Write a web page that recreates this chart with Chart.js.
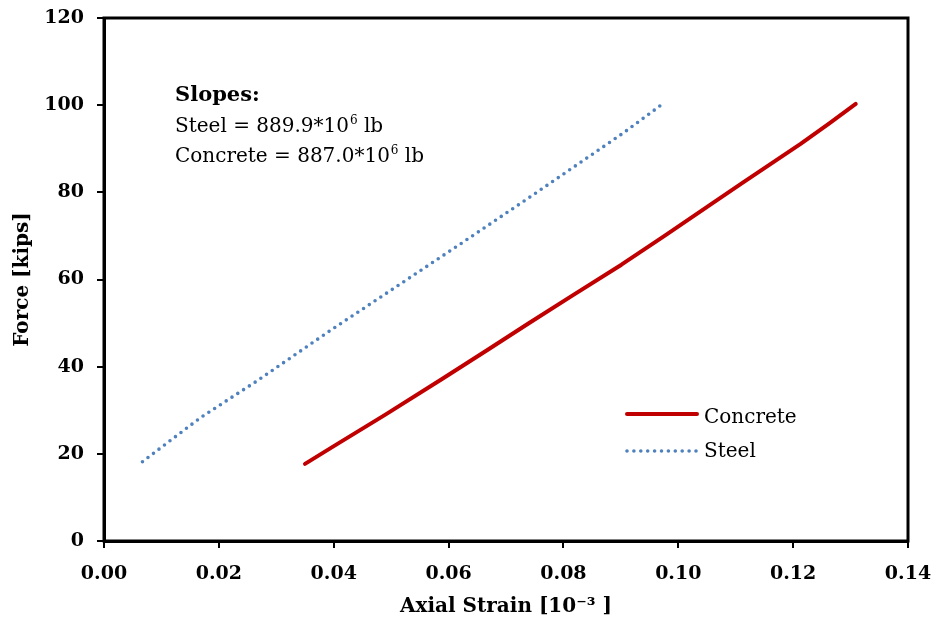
<!DOCTYPE html>
<html>
<head>
<meta charset="utf-8">
<script src="https://cdn.jsdelivr.net/npm/chart.js@4.4.1/dist/chart.umd.min.js"></script>
<style>
  html, body { margin: 0; padding: 0; background: #fff; }
  #wrap { width: 937px; height: 619px; }
</style>
</head>
<body>
<div id="wrap"><canvas id="forceChart" width="937" height="619"></canvas></div>
<script>
// axial strain [10^-3] vs force [kips]
const steelStrain = [0.0067, 0.0169, 0.0265, 0.0394, 0.0489, 0.0620, 0.0737, 0.0903, 0.0973];
const steelForce  = [18.2, 28.4, 36.6, 48.3, 56.6, 68.1, 78.5, 93.5, 100.3];

const concreteStrain = [0.0350, 0.0403, 0.0490, 0.0590, 0.0671, 0.0739, 0.0814, 0.0901, 0.0976, 0.1063, 0.1113, 0.1213, 0.1263, 0.1309];
const concreteForce  = [17.7, 22.0, 29.0, 37.3, 44.1, 49.9, 56.2, 63.4, 70.0, 77.8, 82.3, 91.1, 95.8, 100.3];

const xTicks = [0, 0.02, 0.04, 0.06, 0.08, 0.10, 0.12, 0.14];
const yTicks = [0, 20, 40, 60, 80, 100, 120];

const slopeLines = [
  { label: 'Steel', value: '889.9' },
  { label: 'Concrete', value: '887.0' }
];

const SERIF = '"DejaVu Serif", "Liberation Serif", serif';
const RED = '#C00000';
const BLUE = '#4F81BD';

const toPoints = (xs, ys) => xs.map((x, i) => ({ x: x, y: ys[i] }));

// text with a superscript "6" in the middle: "<pre>*10" + "6" + " lb"
function drawSupText(ctx, x, y, pre, sup, post, size) {
  ctx.font = size + 'px ' + SERIF;
  ctx.fillText(pre, x, y);
  let w = ctx.measureText(pre).width;
  ctx.font = Math.round(size * 0.62) + 'px ' + SERIF;
  ctx.fillText(sup, x + w + 1, y - size * 0.4);
  w += ctx.measureText(sup).width + 1;
  ctx.font = size + 'px ' + SERIF;
  ctx.fillText(post, x + w, y);
}

const framePlugin = {
  id: 'frameAndNotes',
  afterDatasetsDraw(chart) {
    const { ctx, chartArea: a } = chart;
    ctx.save();
    // plot frame
    ctx.strokeStyle = '#000';
    ctx.lineWidth = 3;
    ctx.strokeRect(a.left, a.top, a.right - a.left, a.bottom - a.top);

    // slopes note
    ctx.fillStyle = '#000';
    ctx.textBaseline = 'alphabetic';
    ctx.textAlign = 'left';
    const nx = a.left + 71;
    ctx.font = 'bold 21px ' + SERIF;
    ctx.fillText('Slopes:', nx, a.top + 83);
    slopeLines.forEach((s, i) => {
      drawSupText(ctx, nx, a.top + 114 + i * 30, s.label + ' = ' + s.value + '*10', '6', ' lb', 20);
    });

    // legend
    const lx0 = a.left + 523, lx1 = a.left + 593;
    ctx.lineCap = 'round';
    ctx.strokeStyle = RED;
    ctx.lineWidth = 4;
    ctx.beginPath();
    ctx.moveTo(lx0, a.top + 396);
    ctx.lineTo(lx1, a.top + 396);
    ctx.stroke();
    ctx.strokeStyle = BLUE;
    ctx.lineWidth = 3.6;
    ctx.setLineDash([0, 6.9]);
    ctx.beginPath();
    ctx.moveTo(lx0, a.top + 433);
    ctx.lineTo(lx1, a.top + 433);
    ctx.stroke();
    ctx.setLineDash([]);
    ctx.font = '20px ' + SERIF;
    ctx.fillText('Concrete', a.left + 600, a.top + 405);
    ctx.fillText('Steel', a.left + 600, a.top + 439);
    ctx.restore();
  }
};

new Chart(document.getElementById('forceChart'), {
  type: 'scatter',
  data: {
    datasets: [
      {
        label: 'Concrete',
        data: toPoints(concreteStrain, concreteForce),
        showLine: true,
        borderColor: RED,
        borderWidth: 4,
        borderCapStyle: 'round',
        borderJoinStyle: 'round',
        pointRadius: 0,
        tension: 0
      },
      {
        label: 'Steel',
        data: toPoints(steelStrain, steelForce),
        showLine: true,
        borderColor: BLUE,
        borderWidth: 3.6,
        borderDash: [0, 6.9],
        borderCapStyle: 'round',
        pointRadius: 0,
        tension: 0
      }
    ]
  },
  options: {
    responsive: false,
    animation: false,
    layout: { padding: { top: 18, right: 29, left: 0, bottom: 0 } },
    plugins: {
      legend: { display: false },
      tooltip: { enabled: false }
    },
    scales: {
      x: {
        type: 'linear',
        min: 0,
        max: 0.14,
        afterBuildTicks: (scale) => { scale.ticks = xTicks.map(v => ({ value: v })); },
        afterFit: (scale) => {
          scale.height = 78;
          scale.paddingLeft = 0;
          scale.paddingRight = 0;
        },
        ticks: {
          color: '#000',
          padding: 15,
          maxRotation: 0,
          font: { family: SERIF, size: 19, weight: 'bold' },
          callback: (v) => v.toFixed(2)
        },
        grid: { drawOnChartArea: false, drawTicks: true, tickLength: 7, color: '#000', lineWidth: 2 },
        border: { display: true, color: '#000', width: 3 },
        title: {
          display: true,
          text: 'Axial Strain [10\u207B\u00B3 ]',
          color: '#000',
          padding: { top: 2, bottom: 0 },
          font: { family: SERIF, size: 20, weight: 'bold' }
        }
      },
      y: {
        min: 0,
        max: 120,
        afterBuildTicks: (scale) => { scale.ticks = yTicks.map(v => ({ value: v })); },
        afterFit: (scale) => {
          scale.width = 104;
          scale.paddingTop = 0;
          scale.paddingBottom = 0;
        },
        ticks: {
          color: '#000',
          padding: 13,
          font: { family: SERIF, size: 19, weight: 'bold' }
        },
        grid: { drawOnChartArea: false, drawTicks: true, tickLength: 7, color: '#000', lineWidth: 2 },
        border: { display: true, color: '#000', width: 3 },
        title: {
          display: true,
          text: 'Force [kips]',
          color: '#000',
          padding: { top: 11, bottom: 0 },
          font: { family: SERIF, size: 20, weight: 'bold' }
        }
      }
    }
  },
  plugins: [framePlugin]
});
</script>
</body>
</html>
